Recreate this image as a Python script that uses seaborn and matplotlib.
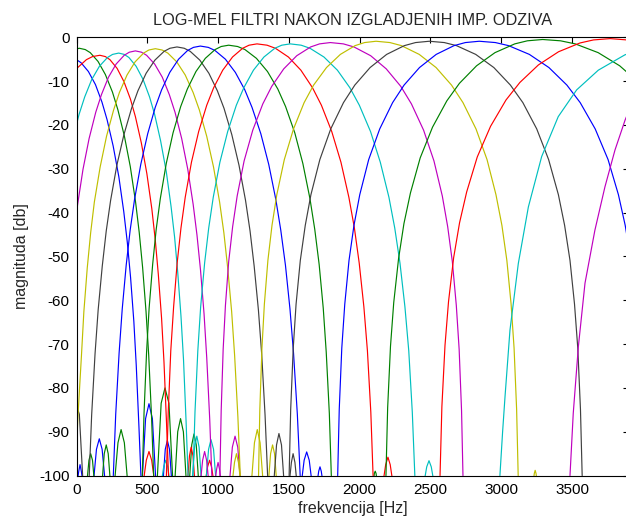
import matplotlib
matplotlib.use("Agg")
import matplotlib.pyplot as plt
import seaborn as sns

# ---------------- data ----------------
title_text = "LOG-MEL FILTRI NAKON IZGLADJENIH IMP. ODZIVA"
x_label = "frekvencija [Hz]"
y_label = "magnituda [db]"
x_ticks = [0, 500, 1000, 1500, 2000, 2500, 3000, 3500]
y_ticks = [0, -10, -20, -30, -40, -50, -60, -70, -80, -90, -100]

# main lobes of the 19 filters (frequency Hz, magnitude dB)
f01_hz = [-110, -78, -40, 0, 32, 84, 134, 180, 216, 259, 299, 334, 359, 382, 405, 422, 441, 455]
f01_db = [-5.8, -5.1, -4.8, -5.1, -5.8, -7.8, -10.8, -14.8, -18.8, -24.8, -31.8, -39.8, -46.8, -54.8, -64.8, -74.8, -88.8, -100]
f02_hz = [-53, -20, 20, 62, 97, 152, 204, 254, 292, 338, 380, 417, 443, 467, 491, 510, 530, 545]
f02_db = [-3.5, -2.8, -2.5, -2.8, -3.5, -5.5, -8.5, -12.5, -16.5, -22.5, -29.5, -37.5, -44.5, -52.5, -62.5, -72.5, -86.5, -100]
f03_hz = [-63, 2, 70, 113, 165, 204, 236, 287, 335, 381, 416, 458, 497, 532, 556, 578, 601, 618, 636, 650]
f03_db = [-10.1, -7.1, -5.1, -4.4, -4.1, -4.4, -5.1, -7.1, -10.1, -14.1, -18.1, -24.1, -31.1, -39.1, -46.1, -54.1, -64.1, -74.1, -88.1, -100]
f04_hz = [-72, -29, 18, 58, 108, 162, 219, 255, 298, 337, 370, 421, 470, 516, 552, 594, 634, 668, 693, 715, 738, 756, 774, 788]
f04_db = [-30.6, -23.6, -17.6, -13.6, -9.6, -6.6, -4.6, -3.9, -3.6, -3.9, -4.6, -6.6, -9.6, -13.6, -17.6, -23.6, -30.6, -38.6, -45.6, -53.6, -63.6, -73.6, -87.6, -100]
f05_hz = [-44, -19, 8, 46, 89, 136, 176, 226, 280, 337, 373, 416, 459, 495, 552, 606, 656, 696, 743, 786, 824, 851, 876, 901, 920, 941, 956]
f05_db = [-53.1, -45.1, -38.1, -30.1, -23.1, -17.1, -13.1, -9.1, -6.1, -4.1, -3.4, -3.1, -3.4, -4.1, -6.1, -9.1, -13.1, -17.1, -23.1, -30.1, -38.1, -45.1, -53.1, -63.1, -73.1, -87.1, -100]
f06_hz = [-8, 10, 35, 52, 76, 100, 126, 167, 212, 262, 303, 357, 414, 474, 511, 557, 605, 645, 708, 768, 824, 868, 920, 968, 1011, 1041, 1068, 1096, 1117, 1140, 1157]
f06_db = [-100, -86.6, -72.6, -62.6, -52.6, -44.6, -37.6, -29.6, -22.6, -16.6, -12.6, -8.6, -5.6, -3.6, -2.9, -2.6, -2.9, -3.6, -5.6, -8.6, -12.6, -16.6, -22.6, -29.6, -37.6, -44.6, -52.6, -62.6, -72.6, -86.6, -100]
f07_hz = [90, 107, 131, 153, 182, 210, 241, 285, 335, 389, 434, 492, 554, 619, 660, 710, 761, 803, 871, 935, 995, 1042, 1097, 1148, 1194, 1226, 1255, 1285, 1308, 1332, 1350]
f07_db = [-100, -86.2, -72.2, -62.2, -52.2, -44.2, -37.2, -29.2, -22.2, -16.2, -12.2, -8.2, -5.2, -3.2, -2.5, -2.2, -2.5, -3.2, -5.2, -8.2, -12.2, -16.2, -22.2, -29.2, -37.2, -44.2, -52.2, -62.2, -72.2, -86.2, -100]
f08_hz = [260, 277, 301, 323, 351, 379, 410, 454, 503, 556, 601, 659, 721, 785, 826, 875, 931, 978, 1052, 1122, 1189, 1240, 1302, 1358, 1408, 1443, 1476, 1508, 1533, 1560, 1580]
f08_db = [-100, -86, -72, -62, -52, -44, -37, -29, -22, -16, -12, -8, -5, -3, -2.3, -2, -2.3, -3, -5, -8, -12, -16, -22, -29, -37, -44, -52, -62, -72, -86, -100]
f09_hz = [465, 477, 495, 513, 538, 563, 592, 634, 682, 736, 783, 844, 910, 979, 1022, 1075, 1138, 1190, 1271, 1349, 1422, 1477, 1542, 1599, 1649, 1683, 1714, 1743, 1764, 1786, 1800]
f09_db = [-100, -85.8, -71.8, -61.8, -51.8, -43.8, -36.8, -28.8, -21.8, -15.8, -11.8, -7.8, -4.8, -2.8, -2.1, -1.8, -2.1, -2.8, -4.8, -7.8, -11.8, -15.8, -21.8, -28.8, -36.8, -43.8, -51.8, -61.8, -71.8, -85.8, -100]
f10_hz = [635, 648, 666, 686, 711, 738, 768, 812, 863, 920, 969, 1033, 1102, 1174, 1219, 1275, 1346, 1405, 1497, 1585, 1667, 1730, 1803, 1868, 1924, 1963, 1997, 2030, 2055, 2079, 2095]
f10_db = [-100, -85.5, -71.5, -61.5, -51.5, -43.5, -36.5, -28.5, -21.5, -15.5, -11.5, -7.5, -4.5, -2.5, -1.8, -1.5, -1.8, -2.5, -4.5, -7.5, -11.5, -15.5, -21.5, -28.5, -36.5, -43.5, -51.5, -61.5, -71.5, -85.5, -100]
f11_hz = [823, 837, 857, 877, 905, 934, 966, 1013, 1068, 1129, 1182, 1250, 1324, 1401, 1450, 1510, 1587, 1649, 1748, 1843, 1931, 1998, 2077, 2146, 2207, 2248, 2285, 2320, 2347, 2372, 2390]
f11_db = [-100, -85.5, -71.5, -61.5, -51.5, -43.5, -36.5, -28.5, -21.5, -15.5, -11.5, -7.5, -4.5, -2.5, -1.8, -1.5, -1.8, -2.5, -4.5, -7.5, -11.5, -15.5, -21.5, -28.5, -36.5, -43.5, -51.5, -61.5, -71.5, -85.5, -100]
f12_hz = [1013, 1022, 1036, 1052, 1075, 1103, 1135, 1184, 1245, 1316, 1379, 1464, 1556, 1654, 1717, 1793, 1885, 1960, 2078, 2188, 2291, 2366, 2452, 2525, 2584, 2622, 2655, 2683, 2703, 2720, 2730]
f12_db = [-100, -85.2, -71.2, -61.2, -51.2, -43.2, -36.2, -28.2, -21.2, -15.2, -11.2, -7.2, -4.2, -2.2, -1.5, -1.2, -1.5, -2.2, -4.2, -7.2, -11.2, -15.2, -21.2, -28.2, -36.2, -43.2, -51.2, -61.2, -71.2, -85.2, -100]
f13_hz = [1286, 1295, 1310, 1327, 1352, 1381, 1415, 1468, 1533, 1608, 1675, 1766, 1864, 1968, 2035, 2116, 2214, 2295, 2421, 2540, 2649, 2730, 2822, 2900, 2963, 3005, 3040, 3070, 3091, 3109, 3120]
f13_db = [-100, -84.9, -70.9, -60.9, -50.9, -42.9, -35.9, -27.9, -20.9, -14.9, -10.9, -6.9, -3.9, -1.9, -1.2, -0.9, -1.2, -1.9, -3.9, -6.9, -10.9, -14.9, -20.9, -27.9, -35.9, -42.9, -50.9, -60.9, -70.9, -84.9, -100]
f14_hz = [1502, 1513, 1531, 1551, 1581, 1616, 1656, 1719, 1796, 1886, 1966, 2074, 2191, 2316, 2395, 2492, 2598, 2684, 2820, 2948, 3065, 3153, 3251, 3335, 3404, 3448, 3486, 3518, 3541, 3560, 3572]
f14_db = [-100, -84.9, -70.9, -60.9, -50.9, -42.9, -35.9, -27.9, -20.9, -14.9, -10.9, -6.9, -3.9, -1.9, -1.2, -0.9, -1.2, -1.9, -3.9, -6.9, -10.9, -14.9, -20.9, -27.9, -35.9, -42.9, -50.9, -60.9, -70.9, -84.9, -100]
f15_hz = [1845, 1856, 1874, 1895, 1925, 1960, 2001, 2064, 2142, 2233, 2314, 2423, 2541, 2667, 2747, 2845, 2959, 3052, 3199, 3337, 3464, 3558, 3664, 3755, 3828, 3876, 3917]
f15_db = [-100, -84.9, -70.9, -60.9, -50.9, -42.9, -35.9, -27.9, -20.9, -14.9, -10.9, -6.9, -3.9, -1.9, -1.2, -0.9, -1.2, -1.9, -3.9, -6.9, -10.9, -14.9, -20.9, -27.9, -35.9, -42.9, -50.9]
f16_hz = [2186, 2198, 2218, 2241, 2275, 2313, 2359, 2428, 2515, 2616, 2705, 2826, 2956, 3096, 3185, 3293, 3419, 3523, 3685, 3837, 3978]
f16_db = [-100, -84.5, -70.5, -60.5, -50.5, -42.5, -35.5, -27.5, -20.5, -14.5, -10.5, -6.5, -3.5, -1.5, -0.8, -0.5, -0.8, -1.5, -3.5, -6.5, -10.5]
f17_hz = [2568, 2581, 2603, 2628, 2664, 2706, 2756, 2831, 2925, 3034, 3132, 3263, 3405, 3556, 3652, 3770, 3888, 3984]
f17_db = [-100, -84.3, -70.3, -60.3, -50.3, -42.3, -35.3, -27.3, -20.3, -14.3, -10.3, -6.3, -3.3, -1.3, -0.6, -0.3, -0.6, -1.3]
f18_hz = [2991, 3010, 3027, 3062, 3121, 3192, 3286, 3403, 3533, 3686, 3874, 3990]
f18_db = [-100, -90, -82, -66.8, -51.6, -38.7, -27.2, -18.1, -12, -7.5, -4, -2.7]
f19_hz = [3486, 3509, 3545, 3592, 3662, 3733, 3804, 3875, 3950]
f19_db = [-100, -85.8, -70.6, -56.1, -44, -34.1, -25.7, -18.9, -13]

# small side lobes along the -100 dB floor, per colour
blue_lobes_hz = [[7, 16, 25, 34, 43], [121, 141, 161, 181, 201], [464, 488, 512, 536, 560],
                 [612, 627, 642, 657, 672], [1591, 1608, 1626, 1644, 1661], [1702, 1711, 1720, 1729, 1738]]
blue_lobes_db = [[-101, -99, -97.5, -99, -101], [-101, -94, -91.6, -94, -101], [-101, -87, -83.6, -87, -101],
                 [-101, -94, -92, -94, -101], [-101, -96.5, -94.6, -96.5, -101], [-101, -99, -98, -99, -101]]
green_lobes_hz = [[75, 88, 100, 113, 125], [182, 196, 210, 224, 238], [270, 293, 315, 338, 360],
                  [570, 598, 625, 653, 680], [695, 715, 735, 755, 775], [798, 814, 830, 846, 862],
                  [2098, 2104, 2110, 2116, 2122]]
green_lobes_db = [[-101, -96.5, -95, -96.5, -101], [-101, -95, -93, -95, -101], [-101, -92.5, -89.5, -92.5, -101],
                  [-101, -83.5, -80, -83.5, -101], [-101, -90, -87, -90, -101], [-101, -93, -90.5, -93, -101],
                  [-101, -99.5, -99, -99.5, -101]]
red_lobes_hz = [[474, 493, 512, 531, 550], [785, 798, 810, 823, 835], [912, 926, 940, 954, 968],
                [2168, 2184, 2200, 2216, 2232]]
red_lobes_db = [[-101, -96.5, -94.5, -96.5, -101], [-101, -95.5, -93.5, -95.5, -101], [-101, -98, -96.5, -98, -101],
                [-101, -97.5, -95.8, -97.5, -101]]
cyan_lobes_hz = [[602, 616, 630, 644, 658], [818, 834, 850, 866, 882], [915, 933, 950, 968, 985],
                 [2458, 2474, 2490, 2506, 2522]]
cyan_lobes_db = [[-101, -98, -96.5, -98, -101], [-101, -93.5, -91, -93.5, -101], [-101, -94, -91.8, -94, -101],
                 [-101, -98, -96.6, -98, -101]]
magenta_lobes_hz = [[877, 891, 905, 919, 933], [980, 990, 1000, 1010, 1020], [1082, 1101, 1120, 1139, 1158]]
magenta_lobes_db = [[-101, -96.5, -94.5, -96.5, -101], [-101, -98.5, -97, -98.5, -101], [-101, -93.5, -91, -93.5, -101]]
yellow_lobes_hz = [[1102, 1116, 1130, 1144, 1158], [1237, 1257, 1277, 1297, 1317], [1357, 1371, 1385, 1399, 1413],
                   [3228, 3234, 3240, 3246, 3252]]
yellow_lobes_db = [[-101, -97, -95, -97, -101], [-101, -92.5, -89.5, -92.5, -101], [-101, -95, -93, -95, -101],
                   [-101, -99.5, -98.8, -99.5, -101]]
black_lobes_hz = [[-55, -30, -5, 20, 45], [1395, 1413, 1430, 1448, 1465], [1505, 1518, 1530, 1543, 1555]]
black_lobes_db = [[-101, -86, -83.5, -86, -101], [-101, -93, -90.4, -93, -101], [-101, -97, -95, -97, -101]]

# MATLAB default colour order
c_b, c_g, c_r, c_c, c_m, c_y, c_k = "#0000FF", "#008000", "#FF0000", "#00BFBF", "#BF00BF", "#BFBF00", "#404040"

# ---------------- drawing ----------------
sns.set_style("white")
plt.rcParams["font.family"] = ["Liberation Sans", "DejaVu Sans"]

fig = plt.figure(figsize=(6.26, 5.25), dpi=100)
ax = fig.add_axes([76.5 / 626, (525 - 475.6) / 525, (628.6 - 76.5) / 626, (475.6 - 37.3) / 525])

main = [
    (f01_hz, f01_db, c_b), (f02_hz, f02_db, c_g), (f03_hz, f03_db, c_r), (f04_hz, f04_db, c_c),
    (f05_hz, f05_db, c_m), (f06_hz, f06_db, c_y), (f07_hz, f07_db, c_k), (f08_hz, f08_db, c_b),
    (f09_hz, f09_db, c_g), (f10_hz, f10_db, c_r), (f11_hz, f11_db, c_c), (f12_hz, f12_db, c_m),
    (f13_hz, f13_db, c_y), (f14_hz, f14_db, c_k), (f15_hz, f15_db, c_b), (f16_hz, f16_db, c_g),
    (f17_hz, f17_db, c_r), (f18_hz, f18_db, c_c), (f19_hz, f19_db, c_m),
]
lobes = [
    (blue_lobes_hz, blue_lobes_db, c_b), (green_lobes_hz, green_lobes_db, c_g),
    (red_lobes_hz, red_lobes_db, c_r), (cyan_lobes_hz, cyan_lobes_db, c_c),
    (magenta_lobes_hz, magenta_lobes_db, c_m), (yellow_lobes_hz, yellow_lobes_db, c_y),
    (black_lobes_hz, black_lobes_db, c_k),
]

lw = 0.85
for hz_list, db_list, col in lobes:
    for hz, db in zip(hz_list, db_list):
        sns.lineplot(x=hz, y=db, color=col, lw=lw, sort=False, estimator=None, ax=ax, legend=False)
for hz, db, col in main:
    sns.lineplot(x=hz, y=db, color=col, lw=lw, sort=False, estimator=None, ax=ax, legend=False)

ax.set_xlim(0, 3900)
ax.set_ylim(-100, 0)
ax.set_xticks(x_ticks)
ax.set_yticks(y_ticks)
ax.set_xticklabels([str(t) for t in x_ticks])
ax.set_yticklabels([str(t) for t in y_ticks])
ax.tick_params(direction="in", length=4, width=0.8, top=True, right=True,
               labelsize=11, colors="black", pad=5)
for s in ax.spines.values():
    s.set_visible(True)
    s.set_color("black")
    s.set_linewidth(0.8)

ax.set_title(title_text, fontsize=11.7, pad=9)
ax.set_xlabel(x_label, fontsize=11.5, labelpad=3)
ax.set_ylabel(y_label, fontsize=11.5, labelpad=7)

fig.savefig("out.png", dpi=100)
